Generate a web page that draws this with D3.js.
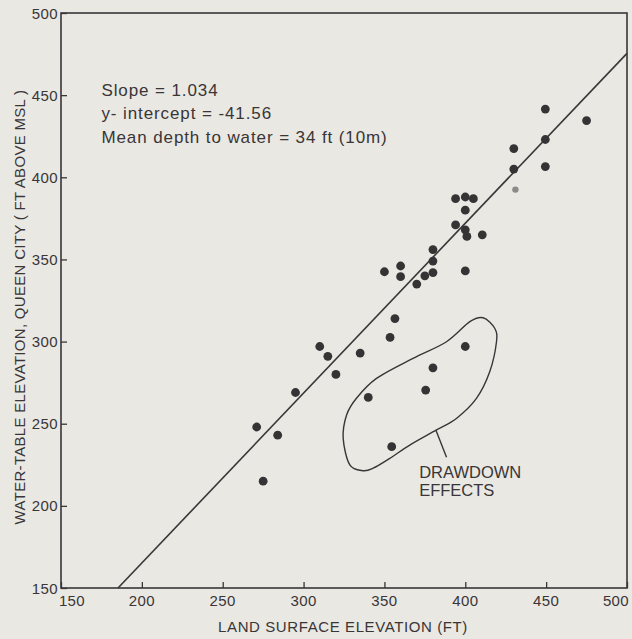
<!DOCTYPE html>
<html><head><meta charset="utf-8">
<script src="https://cdn.jsdelivr.net/npm/d3@7"></script>
<style>
html,body{margin:0;padding:0;background:#e9e8e3;}
svg{display:block;}
text{font-family:"Liberation Sans",Arial,sans-serif;fill:#3a3537;}
</style></head>
<body><svg id="c" width="632" height="639"></svg>
<script>
// ---- data ----
const landElev  = [271,275,284,295,310,315,320,335,340,350,360,360,370,375,380,380,380,394,394,400,405,400,400,401,410.5,400,356.5,353.5,400,380,375.5,354.5,449.5,475,449.5,430,430,449.5,431];
const waterElev = [248,215,243,269,297,291,280,293,266,342.5,346,339.5,335,340,342,349,356,371,387,388,387,380,368,364,365,343,314,302.5,297,284,270.5,236,441.5,434.5,423,417.5,405,406.5,392.5];
const faint     = [0,0,0,0,0,0,0,0,0,0,0,0,0,0,0,0,0,0,0,0,0,0,0,0,0,0,0,0,0,0,0,0,0,0,0,0,0,0,1];
const xTicks = [150,200,250,300,350,400,450,500];
const yTicks = [150,200,250,300,350,400,450,500];
const slope = 1.034, intercept = -41.56;
const statLines = ["Slope = 1.034","y- intercept = -41.56","Mean depth to water = 34 ft (10m)"];
// drawdown loop outline (land, water)
const loopX = [411.0,418.2,419.3,415.1,406.9,394.5,382.2,365.7,353.3,343.0,336.8,328.6,324.5,326.6,332.7,345.1,367.7,388.4,402.8];
const loopY = [314.5,308.1,299.9,281.6,265.4,253.2,246.2,237.0,228.9,222.9,221.4,224.9,241.1,255.3,265.5,277.6,289.8,299.9,312.1];
const leaderX = [381.8,388.4], leaderY = [246.2,229.6];
const loopLabel = ["DRAWDOWN","EFFECTS"];

// ---- layout ----
const W=632,H=639, m={l:61,t:13,r:5,b:51};
const ink="#3a3537";
const svg=d3.select("#c");
const x=d3.scaleLinear().domain([150,500]).range([m.l,W-m.r]);
const y=d3.scaleLinear().domain([150,500]).range([H-m.b,m.t]);

// axes with inward ticks
const gx=svg.append("g").attr("transform",`translate(0,${H-m.b})`)
  .call(d3.axisTop(x).tickValues(xTicks).tickSize(6).tickFormat(""));
gx.select(".domain").remove();
gx.selectAll("line").attr("stroke",ink).attr("stroke-width",1.3);
const gy=svg.append("g").attr("transform",`translate(${m.l},0)`)
  .call(d3.axisRight(y).tickValues(yTicks).tickSize(6).tickFormat(""));
gy.select(".domain").remove();
gy.selectAll("line").attr("stroke",ink).attr("stroke-width",1.3);

// tick labels
svg.append("g").selectAll("text").data(xTicks).join("text")
  .attr("x",d=>x(d)+(d===150?11:d===500?-11:0)).attr("y",H-m.b+18)
  .attr("text-anchor","middle").attr("font-size",15).attr("letter-spacing",0.4).text(d=>d);
svg.append("g").selectAll("text").data(yTicks).join("text")
  .attr("x",m.l-3).attr("y",d=>y(d)+5.5)
  .attr("text-anchor","end").attr("font-size",15).attr("letter-spacing",0.4).text(d=>d);

// frame
svg.append("rect").attr("x",m.l).attr("y",m.t).attr("width",W-m.l-m.r).attr("height",H-m.t-m.b)
  .attr("fill","none").attr("stroke",ink).attr("stroke-width",1.6);

// regression line
const x0=(150-intercept)/slope;
svg.append("line").attr("x1",x(x0)).attr("y1",y(slope*x0+intercept))
  .attr("x2",x(500)).attr("y2",y(slope*500+intercept))
  .attr("stroke",ink).attr("stroke-width",1.6);

// loop
const loopPts=loopX.map((v,i)=>[x(v),y(loopY[i])]);
svg.append("path").attr("d",d3.line().curve(d3.curveCardinalClosed.tension(0))(loopPts))
  .attr("fill","none").attr("stroke",ink).attr("stroke-width",1.4);
svg.append("line").attr("x1",x(leaderX[0])).attr("y1",y(leaderY[0]))
  .attr("x2",x(leaderX[1])).attr("y2",y(leaderY[1])).attr("stroke",ink).attr("stroke-width",1.4);
svg.append("g").selectAll("text").data(loopLabel).join("text")
  .attr("x",x(371.5)).attr("y",(d,i)=>y(217)+ i*18.5)
  .attr("font-size",16.5).text(d=>d);

// points
svg.append("g").selectAll("circle").data(landElev).join("circle")
  .attr("cx",d=>x(d)).attr("cy",(d,i)=>y(waterElev[i])).attr("r",(d,i)=>faint[i]?3.2:4.4)
  .attr("fill",(d,i)=>faint[i]?"#8d8a8a":"#363334");

// stats text
svg.append("g").selectAll("text").data(statLines).join("text")
  .attr("x",x(175)).attr("y",(d,i)=>y(449.5)+i*23.5)
  .attr("font-size",17).attr("letter-spacing",0.9).text(d=>d);

// axis titles
svg.append("text").attr("x",343).attr("y",632).attr("text-anchor","middle")
  .attr("font-size",15).attr("letter-spacing",0.6).text("LAND SURFACE ELEVATION (FT)");
svg.append("text").attr("transform","translate(25,307) rotate(-90)").attr("text-anchor","middle")
  .attr("font-size",15).attr("letter-spacing",0.3).text("WATER-TABLE ELEVATION, QUEEN CITY ( FT ABOVE MSL )");
</script></body></html>
